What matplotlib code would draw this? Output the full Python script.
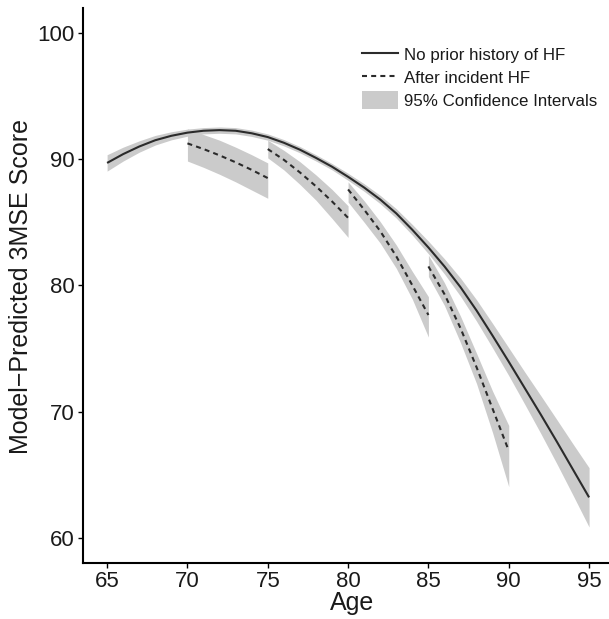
import matplotlib
matplotlib.use("Agg")
import matplotlib.pyplot as plt
from matplotlib.patches import Patch
from matplotlib.lines import Line2D

plt.rcParams['font.family'] = ['Liberation Sans', 'DejaVu Sans']

# ---- data ----
age_main = [65, 66, 67, 68, 69, 70, 71, 72, 73, 74, 75, 76, 77, 78, 79, 80,
            81, 82, 83, 84, 85, 86, 87, 88, 89, 90, 91, 92, 93, 94, 95]
score_main = [89.7, 90.4, 91.0, 91.5, 91.85, 92.1, 92.25, 92.3, 92.25, 92.05, 91.75,
              91.3, 90.75, 90.1, 89.4, 88.6, 87.75, 86.8, 85.7, 84.4, 83.0,
              81.5, 79.85, 78.0, 76.0, 73.95, 71.85, 69.75, 67.6, 65.4, 63.2]
ci_half_main = [0.65, 0.55, 0.45, 0.38, 0.32, 0.28, 0.25, 0.25, 0.25, 0.25, 0.25,
                0.25, 0.25, 0.25, 0.25, 0.28, 0.3, 0.33, 0.37, 0.42, 0.5,
                0.6, 0.72, 0.85, 0.97, 1.1, 1.28, 1.5, 1.75, 2.03, 2.35]

hf_ages = [[70, 71, 72, 73, 74, 75],
           [75, 76, 77, 78, 79, 80],
           [80, 81, 82, 83, 84, 85],
           [85, 86, 87, 88, 89, 90]]
hf_score = [[91.25, 90.8, 90.3, 89.75, 89.15, 88.5],
            [90.8, 89.95, 88.95, 87.85, 86.65, 85.35],
            [87.6, 86.0, 84.3, 82.3, 80.0, 77.65],
            [81.5, 79.3, 76.6, 73.5, 70.2, 66.9]]
hf_hi = [[92.4, 91.95, 91.5, 90.95, 90.35, 89.7],
         [91.5, 90.7, 89.8, 88.75, 87.6, 86.3],
         [88.2, 86.7, 85.05, 83.2, 81.1, 79.1],
         [82.4, 80.2, 77.55, 74.6, 71.6, 68.9]]
hf_lo = [[89.85, 89.35, 88.8, 88.2, 87.55, 86.9],
         [90.1, 89.15, 88.0, 86.75, 85.3, 83.8],
         [86.6, 85.0, 83.35, 81.35, 78.9, 75.9],
         [80.7, 78.4, 75.45, 72.2, 68.3, 64.05]]

xticks = [65, 70, 75, 80, 85, 90, 95]
yticks = [60, 70, 80, 90, 100]

band_color = '#cbcbcb'
line_color = '#2b2b2b'

fig = plt.figure(figsize=(6.09, 6.19), dpi=100)
ax = fig.add_axes([83/609, 56/619, 1 - 83/609, (563 - 7.7)/619])

lo_main = [s - h for s, h in zip(score_main, ci_half_main)]
hi_main = [s + h for s, h in zip(score_main, ci_half_main)]
ax.fill_between(age_main, lo_main, hi_main, color=band_color, lw=0)
for a, lo, hi in zip(hf_ages, hf_lo, hf_hi):
    ax.fill_between(a, lo, hi, color=band_color, lw=0)

ax.plot(age_main, score_main, color=line_color, lw=1.5, solid_capstyle='butt')
for a, s in zip(hf_ages, hf_score):
    ax.plot(a, s, color=line_color, lw=1.5, linestyle=(0, (2.4, 2.0)))

ax.set_xlim(63.5, 96.24)
ax.set_ylim(58, 102)
ax.set_xticks(xticks)
ax.set_yticks(yticks)
ax.tick_params(axis='both', labelsize=16, length=3.5, width=1.0, color='black',
               labelcolor='#1a1a1a')
ax.tick_params(axis='x', pad=2)
ax.tick_params(axis='y', pad=2.5)
for side in ['top', 'right']:
    ax.spines[side].set_visible(False)
for side in ['left', 'bottom']:
    ax.spines[side].set_linewidth(1.5)
    ax.spines[side].set_color('black')

fig.text(352/609, 1 - 603/619, 'Age', fontsize=18, ha='center', va='center',
         color='#1a1a1a')
fig.text(21/609, 1 - 286/619, 'Model\u2212Predicted 3MSE Score', fontsize=18,
         rotation=90, ha='center', va='center', color='#1a1a1a')

handles = [Line2D([0], [0], color=line_color, lw=1.5),
           Line2D([0], [0], color=line_color, lw=1.5, linestyle=(0, (2.4, 2.0))),
           Patch(facecolor=band_color, edgecolor='none')]
labels = ['No prior history of HF', 'After incident HF', '95% Confidence Intervals']
leg = ax.legend(handles, labels, loc='upper left',
                bbox_to_anchor=(362/609, 1 - 45.5/619), bbox_transform=fig.transFigure,
                frameon=False, fontsize=12.2, handlelength=2.15, handleheight=1.2,
                handletextpad=0.35, labelspacing=0.32, borderpad=0, borderaxespad=0)
for t in leg.get_texts():
    t.set_color('#1a1a1a')

fig.savefig('out.png', dpi=100)
